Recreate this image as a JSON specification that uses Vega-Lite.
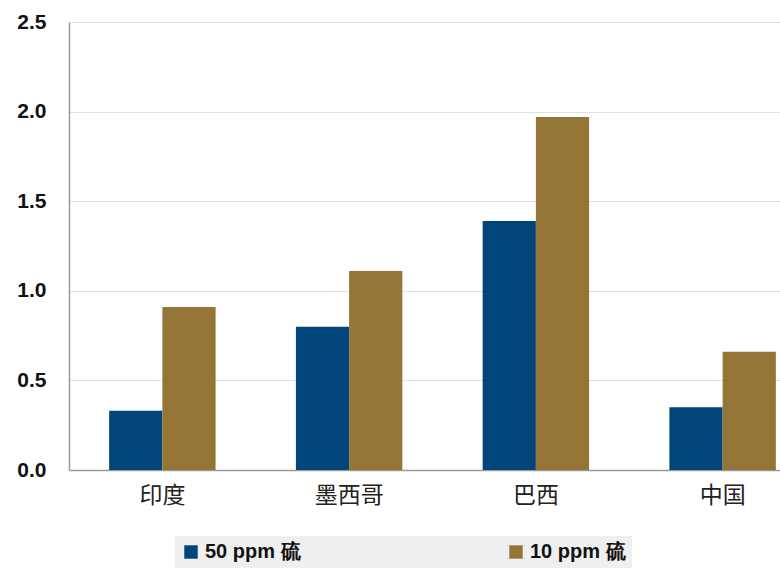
{
  "$schema": "https://vega.github.io/schema/vega-lite/v6.json",
  "autosize": "none",
  "width": 747,
  "height": 448,
  "padding": {"left": 69, "top": 22, "right": 0, "bottom": 103},
  "background": "white",
  "data": {
    "values": [
      {"country": "印度", "grade": "50 ppm 硫", "value": 0.33},
      {"country": "印度", "grade": "10 ppm 硫", "value": 0.91},
      {"country": "墨西哥", "grade": "50 ppm 硫", "value": 0.80},
      {"country": "墨西哥", "grade": "10 ppm 硫", "value": 1.11},
      {"country": "巴西", "grade": "50 ppm 硫", "value": 1.39},
      {"country": "巴西", "grade": "10 ppm 硫", "value": 1.97},
      {"country": "中国", "grade": "50 ppm 硫", "value": 0.35},
      {"country": "中国", "grade": "10 ppm 硫", "value": 0.66}
    ]
  },
  "mark": {"type": "bar"},
  "encoding": {
    "x": {
      "field": "country",
      "type": "nominal",
      "sort": ["印度", "墨西哥", "巴西", "中国"],
      "scale": {"paddingInner": 0.43, "paddingOuter": 0.215},
      "axis": {
        "title": null,
        "labelAngle": 0,
        "labelFont": "Noto Sans CJK SC",
        "labelFontSize": 23,
        "labelFontWeight": "normal",
        "labelColor": "#222222",
        "labelPadding": 14,
        "labelDx": -15,
        "ticks": false,
        "domainColor": "#9a9a9a",
        "domainWidth": 1.5
      }
    },
    "xOffset": {
      "field": "grade",
      "type": "nominal",
      "sort": ["50 ppm 硫", "10 ppm 硫"],
      "scale": {"paddingInner": 0, "paddingOuter": 0}
    },
    "y": {
      "field": "value",
      "type": "quantitative",
      "scale": {"domain": [0, 2.5], "nice": false},
      "axis": {
        "title": null,
        "values": [0, 0.5, 1, 1.5, 2, 2.5],
        "format": ".1f",
        "labelFont": "Liberation Sans",
        "labelFontSize": 21,
        "labelFontWeight": "bold",
        "labelColor": "#111111",
        "labelPadding": 23,
        "ticks": false,
        "domainColor": "#9a9a9a",
        "domainWidth": 1.5,
        "grid": true,
        "gridColor": "#e2e2e2",
        "gridWidth": 1.2
      }
    },
    "color": {
      "field": "grade",
      "type": "nominal",
      "sort": ["50 ppm 硫", "10 ppm 硫"],
      "scale": {"range": ["#02457a", "#957535"]},
      "legend": {
        "title": null,
        "orient": "none",
        "legendX": 106,
        "legendY": 514,
        "direction": "horizontal",
        "symbolType": "square",
        "symbolSize": 180,
        "symbolStrokeWidth": 0,
        "labelFont": "Liberation Sans",
        "labelFontSize": 20,
        "labelFontWeight": "bold",
        "labelColor": "#111111",
        "labelOffset": 4,
        "columnPadding": 205,
        "padding": 6,
        "fillColor": "#efefef",
        "strokeColor": null
      }
    }
  },
  "config": {
    "view": {"stroke": null}
  }
}
